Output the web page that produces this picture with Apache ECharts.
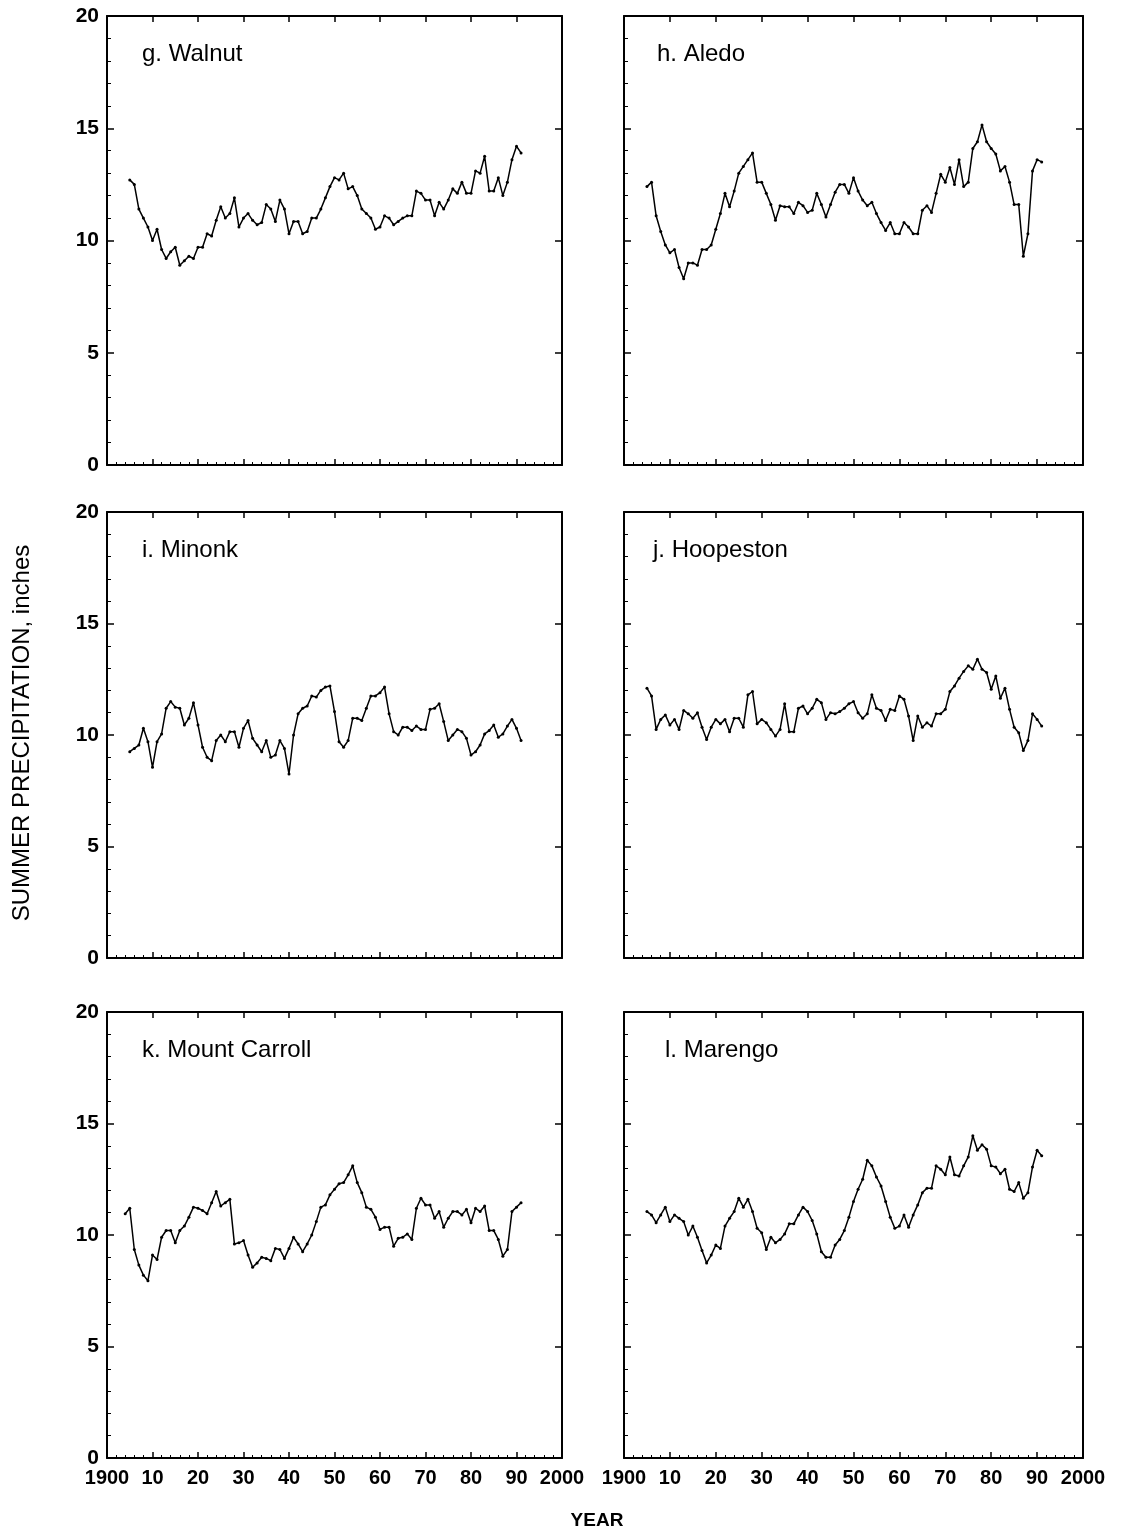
<!DOCTYPE html>
<html>
<head>
<meta charset="utf-8">
<script src="https://cdn.jsdelivr.net/npm/echarts@6/dist/echarts.min.js"></script>
<style>
  html, body { margin: 0; padding: 0; background: #fff; }
  #chart { width: 1143px; height: 1537px; }
</style>
</head>
<body>
<div id="chart"></div>
<script>
// Summer precipitation (inches), one value per year
const walnutStart = 1905;
const walnut = [12.7,12.5,11.4,11.0,10.6,10.0,10.5,9.6,9.2,9.5,9.7,8.9,9.1,9.3,9.2,9.7,9.7,10.3,10.2,10.9,
  11.5,11.0,11.2,11.9,10.6,11.0,11.2,10.9,10.7,10.8,11.6,11.4,10.85,11.8,11.4,10.3,10.85,10.85,10.3,10.4,
  11.0,11.0,11.4,11.9,12.4,12.8,12.7,13.0,12.3,12.4,12.0,11.4,11.2,11.0,10.5,10.6,11.1,11.0,10.7,10.85,
  11.0,11.1,11.1,12.2,12.1,11.8,11.8,11.1,11.7,11.4,11.8,12.3,12.1,12.6,12.1,12.1,13.1,13.0,13.75,12.2,
  12.2,12.8,12.0,12.6,13.6,14.2,13.9];

const aledoStart = 1905;
const aledo = [12.4,12.6,11.1,10.4,9.8,9.45,9.6,8.8,8.3,9.0,9.0,8.9,9.6,9.6,9.8,10.5,11.2,12.1,11.5,12.2,
  13.0,13.3,13.6,13.9,12.6,12.6,12.1,11.6,10.9,11.55,11.5,11.5,11.2,11.7,11.55,11.25,11.35,12.1,11.6,11.05,
  11.6,12.15,12.5,12.5,12.1,12.8,12.2,11.8,11.55,11.7,11.2,10.8,10.45,10.8,10.3,10.3,10.8,10.6,10.3,10.3,
  11.35,11.55,11.25,12.1,12.95,12.6,13.25,12.5,13.6,12.4,12.6,14.1,14.4,15.15,14.4,14.1,13.85,13.1,13.3,12.6,
  11.6,11.6,9.3,10.3,13.1,13.6,13.5];

const minonkStart = 1905;
const minonk = [9.25,9.4,9.55,10.3,9.7,8.55,9.7,10.05,11.2,11.5,11.25,11.2,10.45,10.75,11.45,10.45,9.45,9.0,8.85,9.75,
  10.0,9.7,10.15,10.15,9.45,10.3,10.65,9.85,9.55,9.25,9.75,9.0,9.1,9.75,9.4,8.25,10.0,10.95,11.2,11.3,
  11.75,11.7,12.0,12.15,12.2,11.05,9.7,9.45,9.75,10.75,10.75,10.65,11.2,11.75,11.75,11.9,12.15,10.95,10.15,10.0,
  10.35,10.35,10.2,10.4,10.25,10.25,11.15,11.2,11.4,10.6,9.75,10.0,10.25,10.15,9.85,9.1,9.25,9.55,10.05,10.2,
  10.45,9.9,10.05,10.4,10.7,10.3,9.75];

const hoopestonStart = 1905;
const hoopeston = [12.1,11.75,10.25,10.7,10.9,10.45,10.7,10.25,11.1,10.95,10.75,11.0,10.35,9.8,10.35,10.7,10.5,10.7,10.15,10.75,
  10.75,10.35,11.8,11.95,10.5,10.7,10.55,10.25,9.95,10.25,11.4,10.15,10.15,11.2,11.3,10.95,11.2,11.6,11.45,10.7,
  11.0,10.95,11.05,11.2,11.4,11.5,11.0,10.75,10.95,11.8,11.2,11.1,10.65,11.15,11.1,11.75,11.6,10.85,9.75,10.85,
  10.35,10.55,10.4,10.95,10.95,11.15,11.95,12.2,12.55,12.85,13.1,12.95,13.4,12.95,12.8,12.05,12.65,11.65,12.1,11.15,
  10.35,10.1,9.3,9.75,10.95,10.7,10.4];

const mountCarrollStart = 1904;
const mountCarroll = [10.95,11.2,9.35,8.65,8.2,7.95,9.1,8.9,9.9,10.2,10.2,9.65,10.2,10.4,10.8,11.25,11.2,11.1,10.95,11.45,
  11.95,11.3,11.45,11.6,9.6,9.65,9.75,9.1,8.55,8.75,9.0,8.95,8.85,9.4,9.35,8.95,9.4,9.9,9.6,9.25,
  9.6,10.0,10.6,11.25,11.35,11.8,12.05,12.3,12.35,12.7,13.1,12.35,11.9,11.25,11.15,10.8,10.25,10.35,10.35,9.5,
  9.85,9.9,10.05,9.8,11.2,11.65,11.35,11.35,10.75,11.05,10.35,10.75,11.05,11.05,10.9,11.15,10.55,11.2,11.05,11.3,
  10.2,10.2,9.8,9.05,9.35,11.05,11.25,11.45];

const marengoStart = 1905;
const marengo = [11.05,10.9,10.55,10.9,11.25,10.6,10.9,10.75,10.6,10.0,10.4,9.9,9.3,8.75,9.1,9.55,9.4,10.4,10.75,11.05,
  11.65,11.25,11.6,11.05,10.3,10.1,9.35,9.9,9.65,9.8,10.05,10.5,10.5,10.9,11.25,11.05,10.65,10.05,9.25,9.0,
  9.0,9.55,9.8,10.2,10.8,11.5,12.05,12.5,13.35,13.1,12.6,12.2,11.5,10.8,10.3,10.4,10.9,10.35,10.9,11.35,
  11.9,12.1,12.1,13.1,12.95,12.7,13.5,12.7,12.65,13.1,13.5,14.45,13.8,14.05,13.85,13.1,13.05,12.75,12.95,12.05,
  11.95,12.35,11.65,11.9,13.05,13.8,13.55];

// Axis tick labels
const yearTickLabels = ['1900','10','20','30','40','50','60','70','80','90','2000'];
const precipTickLabels = ['0','5','10','15','20'];

const panelNames = ['g. Walnut','h. Aledo','i. Minonk','j. Hoopeston','k. Mount Carroll','l. Marengo'];
const panelSeries = [
  [walnutStart, walnut], [aledoStart, aledo],
  [minonkStart, minonk], [hoopestonStart, hoopeston],
  [mountCarrollStart, mountCarroll], [marengoStart, marengo]
];

// Panel geometry (pixels)
const colBoxes = [{ left: 107, width: 455 }, { left: 624, width: 459 }];
const rowBoxes = [{ top: 16, height: 449 }, { top: 512, height: 446 }, { top: 1012, height: 446 }];
const titleLeft = [137, 652, 137, 648, 137, 660];

const FONT = '"Liberation Sans", Arial, Helvetica, sans-serif';
const INK = '#000';

const grids = [], xAxes = [], yAxes = [], series = [], titles = [];

panelNames.forEach((name, i) => {
  const col = i % 2, row = Math.floor(i / 2);
  const c = colBoxes[col], r = rowBoxes[row];
  grids.push({ left: c.left, top: r.top, width: c.width, height: r.height, show: false });

  const xBase = {
    gridIndex: i, type: 'value', min: 1900, max: 2000, interval: 10,
    splitLine: { show: false },
    axisLine: { show: true, onZero: false, lineStyle: { color: INK, width: 2 } },
    axisTick: { show: true, inside: true, length: 6, lineStyle: { color: INK, width: 1.5 } }
  };
  xAxes.push(Object.assign({}, xBase, {
    position: 'bottom',
    minorTick: { show: true, splitNumber: 5, length: 3, lineStyle: { color: INK, width: 1 } },
    axisLabel: {
      show: row === 2, margin: 10, color: INK, fontFamily: FONT, fontSize: 20, fontWeight: 'bold',
      formatter: v => yearTickLabels[Math.round((v - 1900) / 10)]
    }
  }));
  xAxes.push(Object.assign({}, xBase, { position: 'top', axisLabel: { show: false } }));

  const yBase = {
    gridIndex: i, type: 'value', min: 0, max: 20, interval: 5,
    splitLine: { show: false },
    axisLine: { show: true, onZero: false, lineStyle: { color: INK, width: 2 } },
    axisTick: { show: true, inside: true, length: 7, lineStyle: { color: INK, width: 1.5 } }
  };
  yAxes.push(Object.assign({}, yBase, {
    position: 'left',
    minorTick: { show: true, splitNumber: 5, length: 4, lineStyle: { color: INK, width: 1 } },
    axisLabel: {
      show: col === 0, margin: 8, color: INK, fontFamily: FONT, fontSize: 21, fontWeight: 'bold',
      formatter: v => precipTickLabels[Math.round(v / 5)]
    }
  }));
  yAxes.push(Object.assign({}, yBase, { position: 'right', axisLabel: { show: false } }));

  const [start, vals] = panelSeries[i];
  series.push({
    type: 'line', xAxisIndex: 2 * i, yAxisIndex: 2 * i,
    data: vals.map((v, k) => [start + k, v]),
    symbol: 'circle', symbolSize: 3, showSymbol: true,
    itemStyle: { color: INK }, lineStyle: { color: INK, width: 1.5 },
    silent: true, animation: false
  });

  titles.push({
    text: name, left: titleLeft[i], top: r.top + 21,
    textStyle: { color: INK, fontFamily: FONT, fontSize: 24, fontWeight: 'normal' }
  });
});

const chart = echarts.init(document.getElementById('chart'), null, { renderer: 'canvas' });
chart.setOption({
  backgroundColor: '#fff',
  animation: false,
  title: titles,
  grid: grids,
  xAxis: xAxes,
  yAxis: yAxes,
  series: series,
  graphic: [
    {
      type: 'text', x: 22, y: 733, rotation: Math.PI / 2,
      style: { text: 'SUMMER PRECIPITATION, inches', fill: INK, font: '24px ' + FONT, align: 'center', verticalAlign: 'middle' }
    },
    {
      type: 'text', x: 597, y: 1521,
      style: { text: 'YEAR', fill: INK, font: 'bold 19px ' + FONT, align: 'center', verticalAlign: 'middle' }
    }
  ]
});
</script>
</body>
</html>
